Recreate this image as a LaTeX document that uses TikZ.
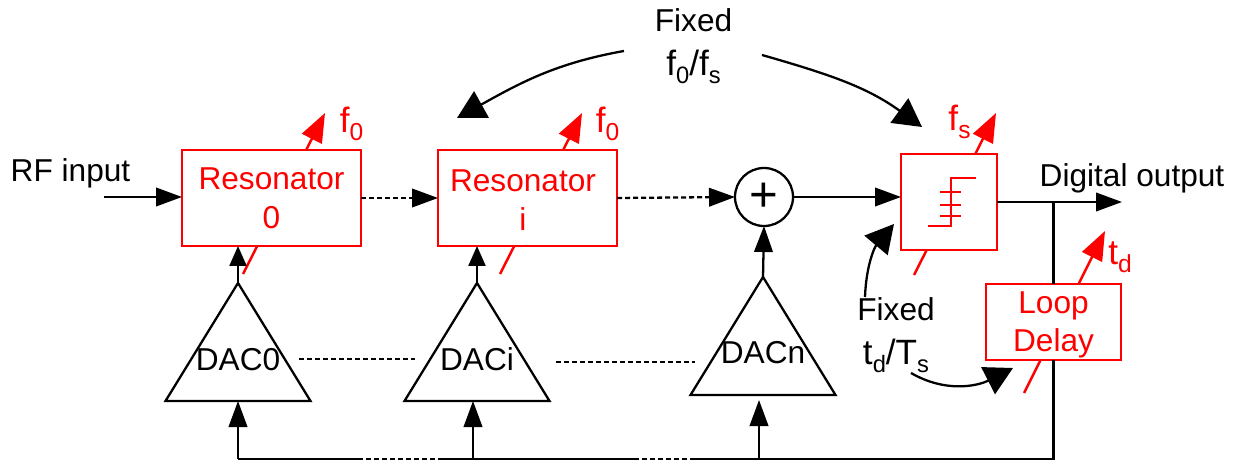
\documentclass[tikz,border=0pt]{standalone}
\usepackage{fontspec}
\setmainfont{Liberation Sans}
\usetikzlibrary{arrows.meta,shapes.geometric}

\newcommand{\lowsub}[1]{\raisebox{-0.45ex}{\fontsize{13.5}{13.5}\selectfont #1}}
\newcommand{\tagsub}[1]{\raisebox{-0.45ex}{\fontsize{14}{14}\selectfont #1}}
\newcommand{\ratiofont}{\fontsize{20}{25}\selectfont}

\tikzset{
  wire/.style={line width=1.3pt, black},
  dashwire/.style={wire, dash pattern=on 0.1cm off 0.06cm},
  flow/.style={wire, -{Triangle[length=0.52cm,width=0.37cm]}},
  shortflow/.style={wire, -{Triangle[length=0.4cm,width=0.34cm]}},
  dashflow/.style={dashwire, -{Triangle[length=0.52cm,width=0.37cm]}},
  fixedflow/.style={wire, -{Triangle[length=0.56cm,width=0.6cm]}},
  tuneflow/.style={line width=1.4pt, red, -{Triangle[length=0.58cm,width=0.44cm]}},
  redbox/.style={draw=red, line width=1.4pt, fill=white, text=red, align=center, inner sep=0pt, outer sep=0pt,
    font=\fontsize{18}{22}\selectfont},
  redtext/.style={text=red, align=center, inner sep=0pt, font=\fontsize{18}{22}\selectfont},
  dacshape/.style={draw, line width=1.3pt, isosceles triangle, shape border rotate=90, isosceles triangle stretches,
    minimum width=2.9cm, minimum height=2.36cm, inner sep=0pt, outer sep=0pt, anchor=apex},
  plain/.style={font=\fontsize{18}{25}\selectfont, align=center, inner sep=0pt},
  redtag/.style={font=\fontsize{20}{24}\selectfont, text=red, inner sep=0pt},
}

\begin{document}
\begin{tikzpicture}
  \useasboundingbox (0, 0) rectangle (24.78, 9.24);

  \coordinate (tune0a) at (4.86, 3.76);
  \coordinate (tune0b) at (6.50, 6.98);
  \coordinate (tune1a) at (10.00, 3.76);
  \coordinate (tune1b) at (11.64, 6.98);
  \coordinate (tunesa) at (18.28, 3.74);
  \coordinate (tunesb) at (19.92, 6.98);
  \coordinate (tuneda) at (20.48, 1.38);
  \coordinate (tunedb) at (22.10, 4.62);
  \draw[tuneflow] (tune0a) -- (tune0b);
  \draw[tuneflow] (tune1a) -- (tune1b);
  \draw[tuneflow] (tunesa) -- (tunesb);
  \draw[tuneflow] (tuneda) -- (tunedb);

  \node[redbox, minimum width=3.58cm, minimum height=1.92cm] (res0) at (5.43, 5.28) {Resonator\\0};
  \node[redbox, minimum width=3.58cm, minimum height=1.92cm] (res1) at (10.55, 5.28) {};
  \node[redtext] (res1text) at (10.46, 5.24) {Resonator\\i};
  \node[draw, line width=1.3pt, circle, minimum size=1.16cm, inner sep=0pt, outer sep=0pt,
    font=\fontsize{28}{28}\selectfont] (sum) at (15.28, 5.30) {+};
  \node[redbox, minimum width=1.92cm, minimum height=1.92cm] (quant) at (18.98, 5.20) {};
  \node[redbox, minimum width=2.7cm, minimum height=1.52cm] (delay) at (21.07, 2.80) {};
  \node[redtext] (delaytext) at (21.07, 2.74) {Loop\\Delay};

  \draw[red, line width=1.3pt] (18.56, 4.72) -- (19.02, 4.72) -- (19.02, 5.68) -- (19.52, 5.68);
  \foreach \y in {5.40, 5.14, 4.92}
    \draw[red, line width=1.3pt] (18.80, \y) -- (19.22, \y);

  \node[dacshape] (dac0) at (4.76, 3.58) {};
  \node[dacshape] (dac1) at (9.54, 3.58) {};
  \node[dacshape] (dacn) at (15.26, 3.70) {};
  \node[plain] (dac0text) at (4.76, 2.04) {DAC0};
  \node[plain] (dac1text) at (9.54, 2.06) {DACi};
  \node[plain] (dacntext) at (15.26, 2.18) {DACn};

  \node[plain] (rftext) at (1.41, 5.78) {RF input};
  \node[plain] (outtext) at (22.64, 5.68) {Digital output};
  \node[plain] (fixedtop) at (13.87, 8.31) {Fixed\\{\ratiofont f\lowsub{0}/f\lowsub{s}}};
  \node[plain] (fixedmid) at (17.92, 2.53) {Fixed\\{\ratiofont t\lowsub{d}/T\lowsub{s}}};
  \node[redtag] (tag0) at (7.03, 6.76) {f\tagsub{0}};
  \node[redtag] (tag1) at (12.15, 6.76) {f\tagsub{0}};
  \node[redtag] (tags) at (19.19, 6.80) {f\tagsub{s}};
  \node[redtag] (tagd) at (22.40, 4.10) {t\tagsub{d}};

  \coordinate (rfin) at (2.08, 5.30);
  \coordinate (outend) at (22.44, 5.20);
  \coordinate (branch) at (21.07, 5.20);
  \draw[flow] (rfin) -- (rfin -| res0.west);
  \draw[dashflow] (res0.east) -- (res1.west);
  \draw[dashflow] (res1.east) -- (sum.west);
  \draw[flow] (sum.east) -- (quant.west |- sum.east);
  \draw[flow] (quant.east) -- (outend);
  \draw[wire] (branch) -- (delay.north);

  \draw[shortflow] (dac0.apex) -- (dac0.apex |- res0.south);
  \draw[shortflow] (dac1.apex) -- (dac1.apex |- res1.south);
  \draw[flow] (dacn.apex) -- (sum.south);

  \coordinate (dash0a) at (5.98, 2.06);
  \coordinate (dash0b) at (8.30, 2.06);
  \coordinate (dash1a) at (11.12, 2.00);
  \coordinate (dash1b) at (13.90, 2.00);
  \draw[dashwire] (dash0a) -- (dash0b);
  \draw[dashwire] (dash1a) -- (dash1b);

  \coordinate (rail0) at (4.76, 0.06);
  \coordinate (rail1) at (9.46, 0.06);
  \coordinate (railn) at (15.18, 0.06);
  \coordinate (railend) at (21.07, 0.06);
  \coordinate (gap0a) at (7.24, 0.06);
  \coordinate (gap0b) at (8.86, 0.06);
  \coordinate (gap1a) at (12.74, 0.06);
  \coordinate (gap1b) at (13.90, 0.06);
  \draw[wire] (delay.south) -- (railend) -- (gap1b);
  \draw[dashwire] (gap1b) -- (gap1a);
  \draw[wire] (gap1a) -- (gap0b);
  \draw[dashwire] (gap0b) -- (gap0a);
  \draw[wire] (gap0a) -- (rail0);
  \draw[flow] (rail0) -- (rail0 |- dac0.lower side);
  \draw[flow] (rail1) -- (rail1 |- dac1.lower side);
  \draw[flow, shorten >=0.1cm] (railn) -- (railn |- dacn.lower side);

  \coordinate (arcla) at (12.48, 8.22);
  \coordinate (arclb) at (9.14, 6.88);
  \coordinate (arcra) at (15.24, 8.14);
  \coordinate (arcrb) at (18.44, 6.70);
  \coordinate (arcua) at (17.30, 3.30);
  \coordinate (arcub) at (17.88, 4.76);
  \coordinate (arcda) at (18.22, 1.78);
  \coordinate (arcdb) at (20.26, 1.88);
  \draw[fixedflow] (arcla) to[out=190, in=29] (arclb);
  \draw[fixedflow] (arcra) to[out=-16, in=144] (arcrb);
  \draw[fixedflow] (arcua) to[out=88, in=230] (arcub);
  \draw[fixedflow] (arcda) to[out=-30, in=207] (arcdb);
\end{tikzpicture}
\end{document}
